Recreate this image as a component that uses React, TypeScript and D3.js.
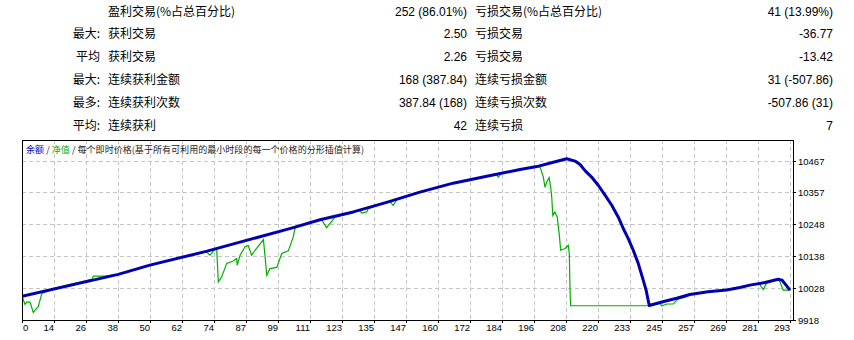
import React from 'react';
import * as d3 from 'd3';

// ---- table data ----
const prefixes = ['', '最大:', '平均', '最大:', '最多:', '平均:'];
const leftLabels = ['盈利交易(%占总百分比)', '获利交易', '获利交易', '连续获利金额', '连续获利次数', '连续获利'];
const leftValues = ['252 (86.01%)', '2.50', '2.26', '168 (387.84)', '387.84 (168)', '42'];
const rightLabels = ['亏损交易(%占总百分比)', '亏损交易', '亏损交易', '连续亏损金额', '连续亏损次数', '连续亏损'];
const rightValues = ['41 (13.99%)', '-36.77', '-13.42', '31 (-507.86)', '-507.86 (31)', '7'];

// ---- axis data ----
const xTickLabels = ['0', '14', '26', '38', '50', '62', '74', '87', '99', '111', '123', '135', '147', '160', '172', '184', '196', '208', '220', '233', '245', '257', '269', '281', '293'];
const yTickValues = [9918, 10028, 10138, 10248, 10357, 10467];
const xMax = 293;

// ---- series data (trade number, value) ----
const balanceTrades = [0, 36.7, 48.8, 70.6, 103.5, 113.7, 126.4, 139.1, 151.8, 164.5, 177.3, 190, 196.4, 202.7, 207.8, 211, 212.9, 214.8, 217.3, 219.9, 222.5, 225, 227.5, 229.4, 231.3, 233.2, 235.1, 237, 238.1, 239.3, 244.5, 249.8, 254.8, 261.7, 268.8, 273.9, 277.7, 283.5, 288.5, 290, 291.5, 293];
const balanceValues = [10000, 10075, 10107, 10155, 10236, 10263, 10290, 10323, 10358, 10389, 10413, 10436, 10446, 10461, 10473, 10465, 10453, 10432, 10410, 10381, 10347, 10313, 10272, 10233, 10198, 10158, 10113, 10055, 10021, 9968, 9981, 9993, 10006, 10015, 10021, 10030, 10038, 10047, 10058, 10055, 10038, 10021];

const equityTrades = [0, 1.1, 1.9, 3.1, 4.3, 5, 6.2, 7.5, 8.1, 10.4, 11.3, 26.8, 27.2, 31.5, 36.7, 48.8, 66.6, 70.5, 71.7, 73.6, 74.3, 74.9, 76.2, 78.1, 80.6, 81.9, 82.1, 83.2, 85.1, 86.3, 87.6, 88.9, 92.1, 93.4, 94.6, 97.2, 99.1, 101.6, 103.5, 104.2, 113.7, 114.3, 116.2, 119.4, 126.4, 128.9, 129.6, 131.5, 132.1, 139.1, 140.4, 141.6, 142.9, 151.8, 164.5, 177.3, 180.8, 181.7, 183, 190, 196.4, 197.6, 198.9, 199.5, 200.2, 201.1, 201.7, 202.1, 202.5, 203.3, 204.2, 205, 205.5, 207.2, 208.4, 208.8, 209.1, 209.3, 238.9, 243.4, 244.1, 246, 248.5, 249.8, 251, 252.9, 254.8, 261.7, 268.8, 273.9, 277.7, 281.2, 282.8, 284.1, 288.5, 289.2, 290.4, 293];
const equityValues = [10001, 9972, 9980, 9979, 9944, 9952, 9964, 10007, 10012, 10019, 10025, 10059, 10069, 10069, 10075, 10107, 10145, 10152, 10141, 10161, 10158, 10049, 10067, 10113, 10121, 10130, 10107, 10141, 10170, 10174, 10141, 10158, 10195, 10072, 10095, 10099, 10147, 10156, 10204, 10236, 10263, 10263, 10236, 10272, 10290, 10295, 10286, 10290, 10301, 10323, 10326, 10312, 10331, 10358, 10389, 10413, 10421, 10410, 10424, 10436, 10446, 10446, 10410, 10375, 10393, 10408, 10375, 10341, 10278, 10290, 10272, 10210, 10158, 10164, 10175, 10147, 10015, 9967, 9967, 9975, 9966, 9973, 9973, 9987, 9992, 9996, 10006, 10015, 10021, 10030, 10038, 10044, 10023, 10046, 10058, 10049, 10021, 10021];

const LATIN = "Tahoma, 'Liberation Sans', Arial, 'Noto Sans CJK SC', sans-serif";
const CJK = "'Noto Sans CJK SC', 'Liberation Sans', sans-serif";
const BLUE = '#0000b0';
const GREEN = '#00b000';

export default function App() {
  const left = 22, right = 793, top = 140, bottom = 320;
  const x = d3.scaleLinear().domain([0, xMax]).range([22, 790]);
  const y = d3.scaleLinear().domain([yTickValues[0], yTickValues[yTickValues.length - 1]]).range([320, 160.5]);
  const gridN = xTickLabels.length - 1;
  const tickT = xTickLabels.map((_, i) => (i * xMax) / gridN);

  const line = d3.line<[number, number]>().x(d => x(d[0])).y(d => y(d[1]));
  const balance: [number, number][] = balanceTrades.map((t, i) => [t, balanceValues[i]]);
  const equity: [number, number][] = equityTrades.map((t, i) => [t, equityValues[i]]);

  const rowY = (i: number) => 15.5 + i * 22.9;

  return (
    <svg width={854} height={340} style={{ position: 'absolute', left: 0, top: 0, display: 'block', background: '#fff' }}>
      <rect x={0} y={0} width={854} height={340} fill="#fff" />
      {/* table */}
      <g fontSize={12} fill="#000">
        {prefixes.map((p, i) => (
          <text key={'p' + i} x={100} y={rowY(i)} textAnchor="end" fontFamily={CJK}>{p}</text>
        ))}
        {leftLabels.map((p, i) => (
          <text key={'l' + i} x={108} y={rowY(i)} fontFamily={CJK}>{p}</text>
        ))}
        {leftValues.map((p, i) => (
          <text key={'lv' + i} x={467} y={rowY(i)} textAnchor="end" fontFamily={LATIN}>{p}</text>
        ))}
        {rightLabels.map((p, i) => (
          <text key={'r' + i} x={475} y={rowY(i)} fontFamily={CJK}>{p}</text>
        ))}
        {rightValues.map((p, i) => (
          <text key={'rv' + i} x={833} y={rowY(i)} textAnchor="end" fontFamily={LATIN}>{p}</text>
        ))}
      </g>

      <defs>
        <clipPath id="plotClip">
          <rect x={left} y={top} width={right - left} height={bottom - top} />
        </clipPath>
      </defs>

      {/* grid */}
      <g stroke="#c4c4c4" strokeWidth={1} strokeDasharray="4,3" shapeRendering="crispEdges">
        {tickT.slice(1).map((t, i) => (
          <line key={'gx' + i} x1={Math.round(x(t)) + 0.5} x2={Math.round(x(t)) + 0.5} y1={top} y2={bottom} />
        ))}
        {yTickValues.slice(1).map((v, i) => (
          <line key={'gy' + i} x1={left} x2={right} y1={Math.round(y(v)) + 0.5} y2={Math.round(y(v)) + 0.5} />
        ))}
      </g>

      {/* title */}
      <text x={26} y={153} fontSize={9} fontFamily={CJK} fill="#222" textLength={338} lengthAdjust="spacing">
        <tspan fill={BLUE}>余额</tspan>
        <tspan> / </tspan>
        <tspan fill={GREEN}>净值</tspan>
        <tspan> / 每个即时价格(基于所有可利用的最小时段的每一个价格的分形插值计算)</tspan>
      </text>

      {/* series */}
      <g clipPath="url(#plotClip)">
        <path d={line(equity) || ''} fill="none" stroke={GREEN} strokeWidth={1.2} strokeLinejoin="miter" />
        <path d={line(balance) || ''} fill="none" stroke={BLUE} strokeWidth={3} strokeLinejoin="round" />
      </g>

      {/* frame */}
      <rect x={left + 0.5} y={top + 0.5} width={right - left} height={bottom - top} fill="none" stroke="#000" strokeWidth={1} shapeRendering="crispEdges" />

      {/* x axis ticks & labels */}
      <g fontSize={9.5} fontFamily={LATIN} fill="#000">
        {tickT.map((t, i) => {
          const px = Math.round(x(t)) + 0.5;
          return (
            <g key={'xt' + i}>
              <line x1={px} x2={px} y1={bottom} y2={bottom + 3} stroke="#000" shapeRendering="crispEdges" />
              <text x={i === 0 ? left + 1 : px - 0.5} y={331} textAnchor={i === 0 ? 'start' : 'end'}>{xTickLabels[i]}</text>
            </g>
          );
        })}
      </g>

      {/* y axis ticks & labels */}
      <g fontSize={9.5} fontFamily={LATIN} fill="#000">
        {yTickValues.map((v, i) => {
          const py = Math.round(y(v)) + 0.5;
          return (
            <g key={'yt' + i}>
              <line x1={right} x2={right + 3} y1={py} y2={py} stroke="#000" shapeRendering="crispEdges" />
              <text x={798} y={py + 3.5}>{v}</text>
            </g>
          );
        })}
      </g>
    </svg>
  );
}
